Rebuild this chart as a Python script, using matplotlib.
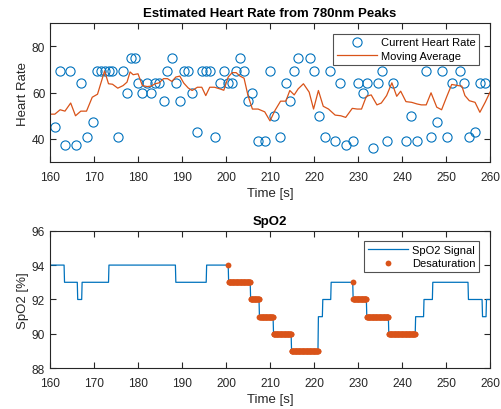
import numpy as np
import matplotlib
matplotlib.use("Agg")
import matplotlib.pyplot as plt

plt.rcParams['font.family'] = ['Liberation Sans', 'DejaVu Sans']

BLUE = '#0072BD'
ORANGE = '#D95319'
AXC = '#262626'

# --- heart rate beats (time [s], bpm) ---
hr_time = [161.1, 162.2, 163.4, 164.6, 165.9, 167.1, 168.4, 169.7, 170.6, 171.5,
           172.4, 173.3, 174.2, 175.5, 176.6, 177.5, 178.4, 179.3, 180.0, 181.0,
           182.1, 183.0, 183.9, 184.8, 185.8, 186.7, 187.7, 188.6, 189.5, 190.4,
           191.4, 192.3, 193.5, 194.5, 195.4, 196.3, 197.4, 198.6, 199.5, 200.5,
           201.4, 202.3, 203.2, 204.1, 205.0, 206.0, 207.3, 208.8, 210.1, 211.0,
           212.3, 213.6, 214.5, 215.5, 216.4, 219.2, 220.1, 221.1, 222.4, 223.6,
           224.8, 226.0, 227.3, 228.9, 230.0, 231.1, 232.0, 233.3, 234.5, 235.5,
           236.7, 238.0, 240.8, 242.0, 243.5, 245.5, 246.7, 248.0, 249.1, 250.3,
           251.4, 253.1, 254.1, 255.2, 256.7, 257.7, 258.8]
hr_bpm = [45.0, 69.2, 37.5, 69.2, 37.5, 64.3, 40.9, 47.4, 69.2, 69.2,
          69.2, 69.2, 69.2, 40.9, 69.2, 60.0, 75.0, 75.0, 64.3, 60.0,
          64.3, 60.0, 64.3, 64.3, 56.25, 69.2, 75.0, 64.3, 56.25, 69.2,
          69.2, 60.0, 42.9, 69.2, 69.2, 69.2, 40.9, 64.3, 69.2, 64.3,
          64.3, 69.2, 75.0, 69.2, 56.25, 60.0, 39.1, 39.1, 69.2, 50.0,
          40.9, 64.3, 56.25, 69.2, 75.0, 75.0, 69.2, 50.0, 40.9, 69.2,
          39.1, 64.3, 37.5, 39.1, 64.3, 60.0, 64.3, 36.0, 64.3, 69.2,
          39.1, 64.3, 39.1, 50.0, 39.1, 69.2, 40.9, 47.4, 69.2, 40.9,
          64.3, 69.2, 64.3, 40.9, 42.9, 64.3, 64.3]

# --- moving average of heart rate ---
ma_time = [160.0, 161.1, 162.3, 163.4, 164.7, 165.8, 167.0, 168.3, 169.6, 170.8,
           172.4, 173.3, 174.2, 175.4, 176.6, 177.5, 178.2, 178.9, 180.0, 181.0,
           182.1, 183.0, 183.9, 184.8, 185.8, 186.7, 187.7, 188.6, 189.5, 190.4,
           191.4, 192.3, 193.5, 194.5, 195.4, 196.3, 197.4, 198.6, 199.5, 200.5,
           201.4, 202.3, 203.2, 204.1, 205.0, 206.0, 207.3, 208.8, 210.0, 211.1,
           212.4, 213.6, 214.5, 215.5, 216.4, 217.6, 218.9, 219.9, 221.0, 222.1,
           223.3, 224.8, 226.1, 227.2, 228.7, 229.8, 230.8, 231.9, 233.0, 234.3,
           235.3, 236.5, 237.7, 238.8, 239.7, 240.9, 242.2, 243.4, 244.4, 245.5,
           246.6, 247.9, 249.0, 250.2, 251.3, 252.8, 253.6, 254.3, 255.3, 256.6,
           257.7, 258.9, 260.0]
ma_bpm = [50.7, 50.7, 52.6, 52.0, 55.5, 50.0, 52.0, 52.0, 58.0, 59.3,
          69.3, 63.8, 63.6, 61.9, 63.0, 64.5, 68.9, 67.7, 68.1, 63.0,
          62.6, 62.8, 63.8, 64.2, 66.0, 66.0, 64.8, 66.7, 67.1, 64.1,
          62.0, 60.9, 62.3, 62.3, 58.7, 62.3, 62.3, 61.6, 61.0, 66.7,
          68.6, 68.6, 67.1, 66.2, 58.7, 52.9, 52.9, 51.7, 47.8, 52.2,
          56.3, 56.3, 60.9, 59.0, 61.6, 63.8, 60.2, 52.9, 60.9, 54.1,
          52.9, 50.3, 50.0, 49.3, 53.2, 52.9, 52.9, 58.4, 59.0, 54.7,
          55.5, 58.7, 64.2, 58.4, 60.6, 56.1, 55.8, 55.1, 54.7, 54.7,
          59.9, 53.7, 52.6, 58.4, 63.5, 63.0, 62.8, 58.7, 56.5, 55.8,
          51.5, 55.8, 60.2]

# --- SpO2 signal as steps (edges in s, level in %) ---
spo2_edges = [160.0, 163.3, 166.3, 167.3, 173.4, 188.6, 195.6, 200.6, 205.6, 207.6,
              210.8, 214.9, 221.0, 222.0, 223.9, 228.9, 232.0, 237.0, 243.1, 245.0,
              247.0, 255.1, 258.3, 259.2, 260.0]
spo2_levels = [94, 93, 92, 93, 94, 93, 94, 93, 92, 91,
               90, 89, 91, 92, 93, 92, 91, 90, 91, 92,
               93, 92, 91, 92]
desat_windows = [(200.5, 220.9), (228.8, 243.0)]
fs = 10  # samples per second of the SpO2 signal

# rebuild the sampled signal from the steps
counts = np.round(np.diff(spo2_edges) * fs).astype(int)
spo2 = np.repeat(spo2_levels, counts).astype(float)
t_spo2 = spo2_edges[0] + np.arange(len(spo2)) / fs
desat = np.zeros(len(spo2), dtype=bool)
for a, b in desat_windows:
    desat |= (t_spo2 >= a - 1e-6) & (t_spo2 <= b + 1e-6)


def style_axes(ax):
    for s in ax.spines.values():
        s.set_color(AXC)
        s.set_linewidth(0.8)
    ax.tick_params(direction='in', top=True, right=True, length=4,
                   width=0.8, colors=AXC, labelsize=8.6)
    ax.tick_params(axis='x', pad=6.5)
    ax.tick_params(axis='y', pad=3.5)
    ax.xaxis.label.set_color(AXC)
    ax.yaxis.label.set_color(AXC)


def add_legend(ax):
    leg = ax.legend(loc='upper right', fontsize=8.0, frameon=True, fancybox=False,
                    edgecolor=AXC, borderpad=0.35, handlelength=3.6,
                    handletextpad=0.35, labelspacing=0.3, borderaxespad=0.95)
    leg.get_frame().set_linewidth(0.8)
    return leg


fig = plt.figure(figsize=(5.02, 4.10), dpi=100)
ax1 = fig.add_axes([0.0996, 0.6020, 0.8765, 0.3395])
ax2 = fig.add_axes([0.0996, 0.0993, 0.8765, 0.3356])

# top: heart rate
ax1.plot(hr_time, hr_bpm, 'o', mfc='none', mec=BLUE, ms=6.6, mew=0.8,
         label='Current Heart Rate')
ax1.plot(ma_time, ma_bpm, '-', color=ORANGE, lw=0.9, label='Moving Average')
ax1.set_xlim(160, 260)
ax1.set_ylim(30, 90)
ax1.set_yticks([40, 60, 80])
ax1.set_xticks(np.arange(160, 261, 10))
ax1.set_xlabel('Time [s]', fontsize=9.5, labelpad=3)
ax1.set_ylabel('Heart Rate', fontsize=9.5, labelpad=2)
ax1.set_title('Estimated Heart Rate from 780nm Peaks', fontsize=9.5,
              fontweight='bold', color='black', pad=5)
style_axes(ax1)
add_legend(ax1)

# bottom: SpO2
ax2.plot(t_spo2, spo2, '-', color=BLUE, lw=0.9, label='SpO2 Signal')
ax2.plot(t_spo2[desat], spo2[desat], 'o', color=ORANGE, ms=4.2, mew=0,
         label='Desaturation')
ax2.set_xlim(160, 260)
ax2.set_ylim(88, 96)
ax2.set_yticks([88, 90, 92, 94, 96])
ax2.set_xticks(np.arange(160, 261, 10))
ax2.set_xlabel('Time [s]', fontsize=9.5, labelpad=3)
ax2.set_ylabel('SpO2 [%]', fontsize=9.5, labelpad=2)
ax2.set_title('SpO2', fontsize=9.5, fontweight='bold', color='black', pad=5)
style_axes(ax2)
add_legend(ax2)

fig.savefig('out.png', dpi=100)
